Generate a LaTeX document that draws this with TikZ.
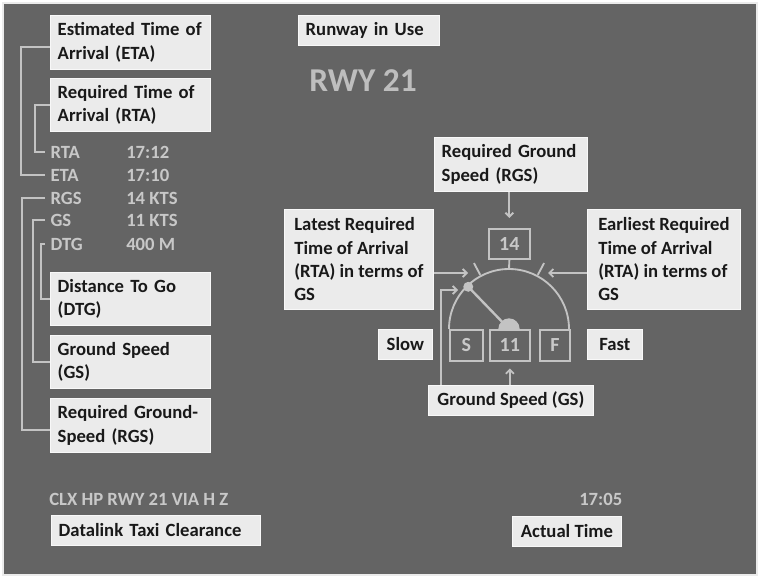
\documentclass[tikz,border=0pt]{standalone}
\usepackage{fontspec}
\setmainfont{Carlito}
\usetikzlibrary{arrows.meta,positioning}
\definecolor{panelgray}{RGB}{100,100,100}
\definecolor{boxfill}{RGB}{235,235,235}
\definecolor{boxline}{RGB}{248,248,248}
\definecolor{boxtext}{RGB}{25,25,25}
\definecolor{dimtext}{RGB}{200,200,200}
\definecolor{wire}{RGB}{195,195,195}

\begin{document}
\begin{tikzpicture}[x=0.75pt, y=-0.75pt,
    every node/.style={font=\fontsize{14}{17.5}\selectfont\bfseries},
    infobox/.style={draw=boxline, line width=0.6pt, fill=boxfill, text=boxtext, anchor=north west, align=left, inner xsep=5.5pt},
    readout/.style={text=dimtext, anchor=west, inner xsep=4pt},
    value/.style={text=dimtext, anchor=west, inner sep=0pt},
    dialbox/.style={draw=wire, line width=1.3pt, text=dimtext, anchor=north west, inner sep=0pt, font=\fontsize{15}{18}\selectfont\bfseries},
    wireline/.style={draw=wire, line width=1.4pt},
    arr/.style={wireline, -{Straight Barb[length=3pt,width=6pt]}}]
    \useasboundingbox (0,0) rectangle (760,578);
    \fill[white] (0,0) rectangle (760,578);
    \filldraw[fill=panelgray, draw=boxfill, line width=0.8pt] (3,3) rectangle (757,575);

    \node[infobox, text width=109pt, minimum height=40.5pt] (eta) at (50,15) {Estimated Time of\\Arrival (ETA)};
    \node[infobox, text width=109pt, minimum height=40pt] (rta) at (50,78) {Required Time of\\Arrival (RTA)};
    \node[readout] (rtarow) at (45,152) {RTA};
    \node[readout] (etarow) at (45,175) {ETA};
    \node[readout] (rgsrow) at (45,198) {RGS};
    \node[readout] (gsrow) at (45,220) {GS};
    \node[readout] (dtgrow) at (45,244) {DTG};
    \node[value] (rtaval) at (126,152) {17:12};
    \node[value] (etaval) at (126,175) {17:10};
    \node[value] (rgsval) at (126,198) {14 KTS};
    \node[value] (gsval) at (126,220) {11 KTS};
    \node[value] (dtgval) at (126,244) {400 M};
    \node[infobox, text width=109pt, minimum height=40pt] (dtg) at (50,272) {Distance To Go\\(DTG)};
    \node[infobox, text width=109pt, minimum height=40pt] (gs) at (50,335) {Ground Speed\\(GS)};
    \node[infobox, text width=109pt, minimum height=40.5pt] (rgs) at (50,398) {Required Ground-\\Speed (RGS)};

    \draw[wireline] ([yshift=-3.75pt]eta.west) -- ++(-29,0) |- (etarow.west);
    \draw[wireline] (rta.west) -- ++(-15,0) |- (rtarow.west);
    \draw[wireline] (rgsrow.west) -- ++(-23,0) |- ([yshift=-3.5pt]rgs.west);
    \draw[wireline] (gsrow.west) -- ++(-12,0) |- (gs.west);
    \draw[wireline] (dtgrow.west) -- ++(-4,0) |- (dtg.west);

    \node[infobox, text width=94.75pt, minimum height=22.5pt] (rwyuse) at (298,15) {Runway in Use};
    \node[text=dimtext!95!black, font=\fontsize{25}{30}\selectfont\bfseries] (rwy) at (363,81) {RWY 21};

    \node[infobox, text width=103.75pt, minimum height=40.5pt] (reqgs) at (434,137) {Required Ground\\Speed (RGS)};
    \node[infobox, minimum width=111.75pt, minimum height=75pt, inner xsep=4pt] (latest) at (284,209) {Latest Required\\Time of Arrival\\(RTA) in terms of\\GS};
    \node[infobox, minimum width=114.75pt, minimum height=75pt, inner xsep=4pt] (earliest) at (587,209) {Earliest Required\\Time of Arrival\\(RTA) in terms of\\GS};
    \node[infobox, minimum width=40.5pt, minimum height=22.5pt] (slow) at (378,329) {Slow};
    \node[infobox, minimum width=41.25pt, minimum height=22.5pt] (fast) at (587,329) {Fast};
    \node[infobox, minimum width=123.75pt, minimum height=22.5pt, inner xsep=3pt] (gsbox) at (428,385) {Ground Speed (GS)};

    \node[dialbox, minimum width=30.75pt, minimum height=22.5pt] (v14) at (488,228) {14};
    \node[dialbox, minimum width=24.75pt, minimum height=23.25pt] (sbox) at (449,329) {S};
    \node[dialbox, minimum width=30pt, minimum height=23.25pt] (v11) at (489,329) {11};
    \node[dialbox, minimum width=22.5pt, minimum height=23.25pt] (fbox) at (539,329) {F};

    \coordinate (hub) at (509,329);
    \coordinate (tip) at ([shift={(134:44pt)}]hub);
    \draw[wireline] ([xshift=-45pt]hub) arc[start angle=180, end angle=0, radius=45pt];
    \fill[wire] ([xshift=8pt]hub) arc[start angle=0, end angle=180, radius=8pt] -- cycle;
    \draw[wireline, line width=1.8pt] (hub) -- (tip);
    \fill[wire] (tip) circle[radius=3.75pt];
    \foreach \a in {62,118}
        \draw[wireline] ([shift={(\a:46pt)}]hub) -- ([shift={(\a:56pt)}]hub);
    \draw[wireline] (v14.south) -- ([shift={(90:45pt)}]hub);

    \coordinate (latestend) at (468,273);
    \coordinate (earliestend) at (548,273);
    \coordinate (dotend) at (458,290);
    \draw[arr] (latestend -| latest.east) -- (latestend);
    \draw[arr] (earliestend -| earliest.west) -- (earliestend);
    \draw[arr, shorten >=7.5pt] (reqgs.south -| v14.north) -- (v14.north);
    \draw[arr, shorten >=5pt] (gsbox.north -| v11.south) -- (v11.south);
    \draw[arr] ([xshift=10pt]gsbox.north west) |- (dotend);

    \node[value] (clx) at (49,499) {CLX HP RWY 21 VIA H Z};
    \node[value] (clock) at (579,499) {17:05};
    \node[infobox, text width=145.75pt, minimum height=22.5pt] (datalink) at (51,515) {Datalink Taxi Clearance};
    \node[infobox, minimum width=81.75pt, minimum height=22.5pt] (actual) at (512,516) {Actual Time};
\end{tikzpicture}
\end{document}
